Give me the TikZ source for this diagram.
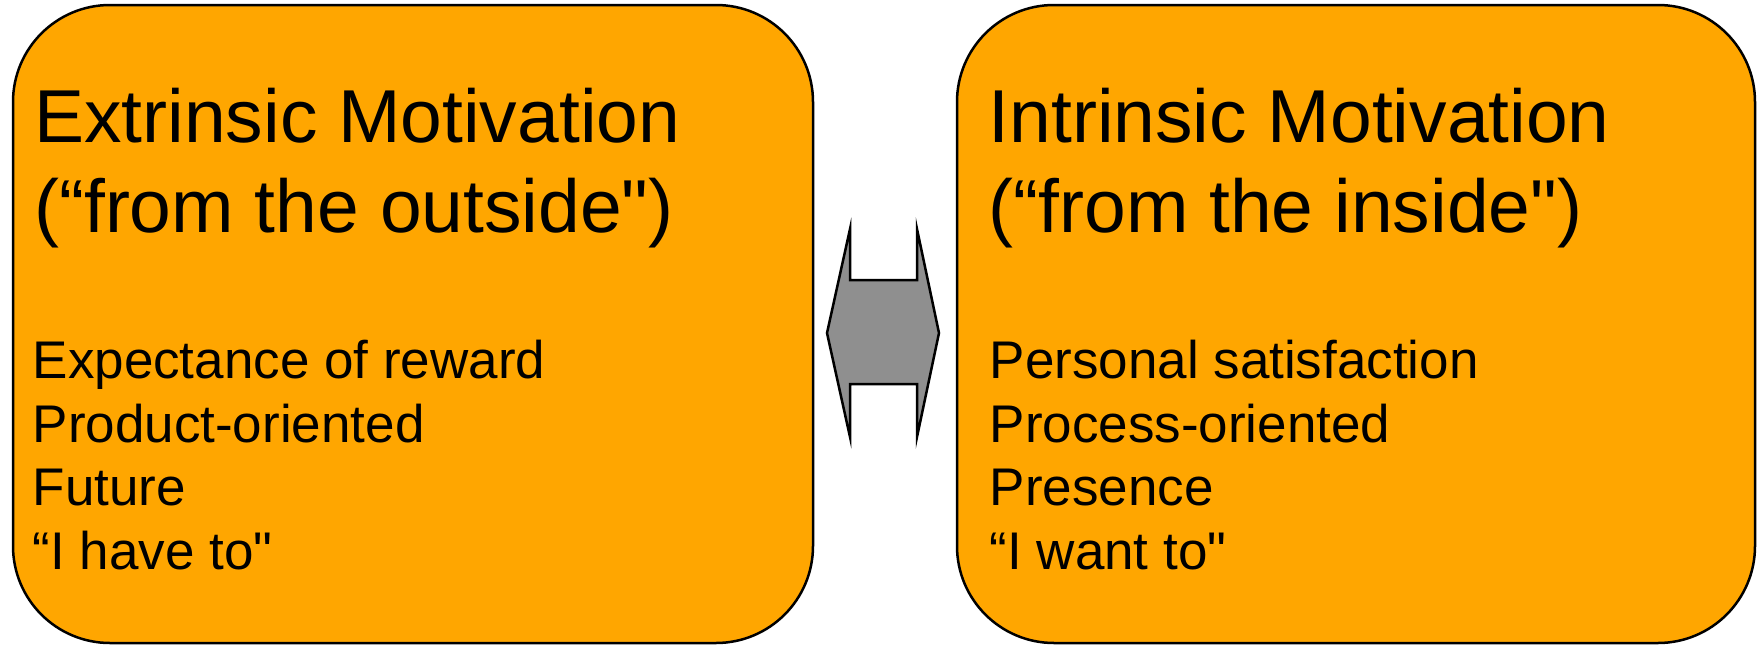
\documentclass[tikz,border=0pt]{standalone}
\usepackage{fontspec}
\usetikzlibrary{calc}
\setmainfont[Ligatures=TeXOff]{Liberation Sans}
\definecolor{boxorange}{HTML}{FFA600}
\definecolor{arrowgray}{HTML}{8F8F8F}
\begin{document}
\begin{tikzpicture}[x=1pt,y=-1pt,
  mbox/.style={draw=black,line width=2.5pt,fill=boxorange,rounded corners=97pt,
    minimum height=638pt,inner sep=0pt},
  titleline/.style={anchor=base west,inner sep=0pt,font=\fontsize{75pt}{90pt}\selectfont},
  bodyline/.style={anchor=base west,inner sep=0pt,font=\fontsize{53pt}{64pt}\selectfont},
  garrow/.style={draw=black,line width=2.5pt,fill=arrowgray,line join=miter}]
\useasboundingbox (0,0) rectangle (1757,645);
\node[mbox,minimum width=800pt] (L) at (413,324) {};
\node[mbox,minimum width=798pt] (R) at (1356,324) {};
% left texts
\node[titleline] (lt1) at (34,142) {Extrinsic Motivation};
\node[titleline] (lt2) at (34,232) {(“from the outside")};
\node[bodyline] (lb1) at (32.5,378) {Expectance of reward};
\node[bodyline] (lb2) at (32.5,442) {Product-oriented};
\node[bodyline] (lb3) at (32.5,505) {Future};
\node[bodyline] (lb4) at (32.5,569) {“I have to"};
% right texts
\node[titleline] (rt1) at (988.5,142) {Intrinsic Motivation};
\node[titleline] (rt2) at (988.5,232) {(“from the inside")};
\node[bodyline] (rb1) at (989.5,378) {Personal satisfaction};
\node[bodyline] (rb2) at (989.5,442) {Process-oriented};
\node[bodyline] (rb3) at (989.5,505) {Presence};
\node[bodyline] (rb4) at (989.5,569) {“I want to"};
% double arrow
\coordinate (A) at (883,333);
\draw[garrow] ($(A)+(-56,0)$) -- ($(A)+(-33,-104)$) -- ($(A)+(-33,-53)$) -- ($(A)+(34,-53)$)
  -- ($(A)+(34,-104)$) -- ($(A)+(56,0)$) -- ($(A)+(34,104)$) -- ($(A)+(34,51)$)
  -- ($(A)+(-33,51)$) -- ($(A)+(-33,104)$) -- cycle;
\end{tikzpicture}
\end{document}
